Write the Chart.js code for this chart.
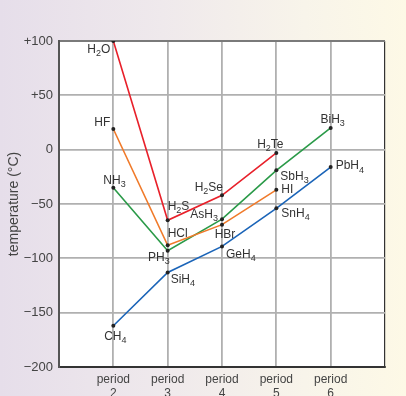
<!DOCTYPE html>
<html>
<head>
<meta charset="utf-8">
<script src="https://cdn.jsdelivr.net/npm/chart.js@4"></script>
<style>
  html, body { margin: 0; padding: 0; }
  body {
    width: 406px; height: 396px; overflow: hidden;
    background: linear-gradient(to right, #e6deea 0%, #efe9ec 40%, #f8f4ea 75%, #fdf9e6 100%);
  }
  #wrap { position: relative; width: 406px; height: 396px; }
</style>
</head>
<body>
<div id="wrap"><canvas id="myChart" width="406" height="396"></canvas></div>
<script>
// periods 2..6 on the x axis
const periods = [2, 3, 4, 5, 6];

// boiling points (degrees C)
const group16 = [100, -65, -42, -3];        // H2O H2S H2Se H2Te
const group17 = [19, -88, -69, -37];        // HF HCl HBr HI
const group15 = [-35, -93, -64, -19, 20];   // NH3 PH3 AsH3 SbH3 BiH3
const group14 = [-162, -113, -89, -54, -16]; // CH4 SiH4 GeH4 SnH4 PbH4

const labels16 = ["H2O", "H2S", "H2Se", "H2Te"];
const labels17 = ["HF", "HCl", "HBr", "HI"];
const labels15 = ["NH3", "PH3", "AsH3", "SbH3", "BiH3"];
const labels14 = ["CH4", "SiH4", "GeH4", "SnH4", "PbH4"];

const yTicks = [100, 50, 0, -50, -100, -150, -200];

// where each label sits next to its point: dx, dy, align
const labelPos = {
  H2O: [-3, 9, "right"], H2S: [0, -14, "left"], H2Se: [1, -8, "right"], H2Te: [-6, -8, "center"],
  HF: [-3, -6, "right"], HCl: [0, -12, "left"], HBr: [3, 10, "center"], HI: [5, 0, "left"],
  NH3: [-10, -7, "left"], PH3: [2, 7, "right"], AsH3: [-4, -5, "right"], SbH3: [4, 6, "left"], BiH3: [2, -8, "center"],
  CH4: [2, 11, "center"], SiH4: [3, 7, "left"], GeH4: [4, 8, "left"], SnH4: [5, 5, "left"], PbH4: [5, -1, "left"]
};

function toPoints(values) {
  return values.map((v, i) => ({ x: periods[i], y: v }));
}

function makeSet(values, names, color) {
  return {
    data: toPoints(values),
    names: names,
    borderColor: color,
    borderWidth: 1.6,
    pointRadius: 2,
    pointBackgroundColor: "#222",
    pointBorderWidth: 0,
    fill: false,
    tension: 0,
  };
}

const fontFamily = "'Liberation Sans', Arial, sans-serif";

// white plot area
const plotBackground = {
  id: "plotBackground",
  beforeDraw(chart) {
    const { ctx, chartArea: a } = chart;
    ctx.save();
    ctx.fillStyle = "#fff";
    ctx.fillRect(a.left, a.top, a.right - a.left, a.bottom - a.top);
    ctx.restore();
  },
};

// formula labels, digits written as subscripts
const formulaLabels = {
  id: "formulaLabels",
  afterDatasetsDraw(chart) {
    const ctx = chart.ctx;
    ctx.save();
    ctx.fillStyle = "#333";
    ctx.textBaseline = "middle";
    chart.data.datasets.forEach((ds, di) => {
      const meta = chart.getDatasetMeta(di);
      meta.data.forEach((pt, i) => {
        const name = ds.names[i];
        const pos = labelPos[name] || [4, 0, "left"];
        const parts = name.match(/\d+|\D+/g);
        let w = 0;
        parts.forEach((p) => {
          ctx.font = (/\d/.test(p) ? "9px " : "12px ") + fontFamily;
          w += ctx.measureText(p).width;
        });
        let x = pt.x + pos[0];
        if (pos[2] === "right") x -= w;
        else if (pos[2] === "center") x -= w / 2;
        const y = pt.y + pos[1];
        ctx.textAlign = "left";
        parts.forEach((p) => {
          const sub = /\d/.test(p);
          ctx.font = (sub ? "9px " : "12px ") + fontFamily;
          ctx.fillText(p, x, sub ? y + 4 : y);
          x += ctx.measureText(p).width;
        });
      });
    });
    ctx.restore();
  },
};

const myChart = new Chart(document.getElementById("myChart").getContext("2d"), {
  type: "line",
  data: {
    datasets: [
      makeSet(group16, labels16, "#e8202a"),
      makeSet(group17, labels17, "#f07a2a"),
      makeSet(group15, labels15, "#2a9a48"),
      makeSet(group14, labels14, "#1a64b8"),
    ],
  },
  options: {
    responsive: false,
    animation: false,
    layout: { padding: { left: 0, right: 21, top: 41, bottom: 0 } },
    plugins: { legend: { display: false }, tooltip: { enabled: false } },
    scales: {
      x: {
        type: "linear",
        min: 1,
        max: 7,
        afterFit(scale) { scale.height = 29; },
        ticks: {
          stepSize: 1,
          padding: 6,
          color: "#444",
          font: { family: fontFamily, size: 12, lineHeight: 1.15 },
          maxRotation: 0,
          autoSkip: false,
          callback: (v) => (periods.includes(v) ? ["period", String(v)] : ""),
        },
        grid: {
          drawTicks: false,
          color: (c) => (c.tick && c.tick.value === 7 ? "#333" : "#b0b0b0"),
          lineWidth: (c) => (c.tick && c.tick.value === 7 ? 1.2 : 1.8),
        },
        border: { color: "#333", width: 2 },
      },
      y: {
        min: -200,
        max: 100,
        afterFit(scale) { scale.width = 59; },
        afterBuildTicks(scale) { scale.ticks = yTicks.map((v) => ({ value: v })); },
        ticks: {
          padding: 6,
          color: "#444",
          font: { family: fontFamily, size: 13 },
          callback: (v) => (v > 0 ? "+" + v : v < 0 ? "\u2212" + Math.abs(v) : "0"),
        },
        grid: {
          drawTicks: false,
          color: (c) => (c.tick && c.tick.value === 100 ? "#7a7a7a" : "#b0b0b0"),
          lineWidth: (c) => (c.tick && c.tick.value === 100 ? 2 : 1.8),
        },
        border: { color: "#555", width: 2 },
        title: {
          display: true,
          text: "temperature (\u00B0C)",
          color: "#444",
          font: { family: fontFamily, size: 14 },
          padding: { top: 6, bottom: 0 },
        },
      },
    },
  },
  plugins: [plotBackground, formulaLabels],
});
</script>
</body>
</html>
